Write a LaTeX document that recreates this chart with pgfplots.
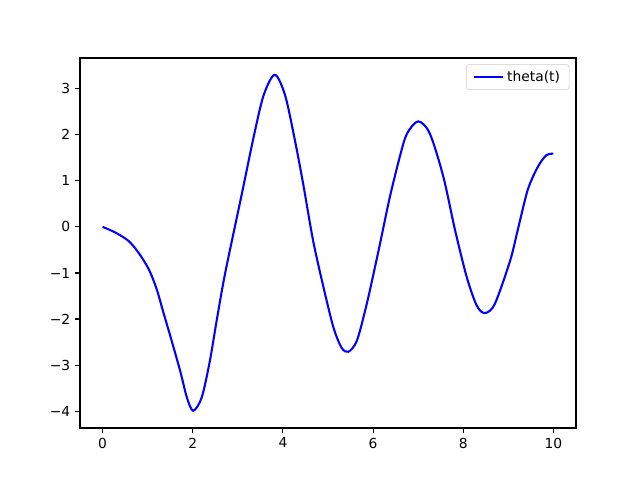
\documentclass[border=0pt]{standalone}
\usepackage{fontspec}
\setmainfont{DejaVu Sans}
\usepackage{pgfplots}
\pgfplotsset{compat=1.18}

\begin{document}
\begin{tikzpicture}
\fontsize{10}{12}\selectfont
\begin{axis}[
    name=ax,
    scale only axis,
    width=4.96in, height=3.70in,
    xmin=-0.5, xmax=10.5,
    ymin=-4.365, ymax=3.665,
    xtick={0,2,4,6,8,10},
    ytick={-4,-3,-2,-1,0,1,2,3},
    yticklabels={−4,−3,−2,−1,0,1,2,3},
    tick align=outside,
    tick pos=left,
    major tick length=3.5pt,
    every tick/.style={black, line width=0.8pt},
    axis line style={line width=0.8pt},
    /pgf/number format/assume math mode=true,
    tick label style={font=\fontsize{10}{12}\selectfont},
    legend cell align=left,
    legend style={draw=black!20, rounded corners=2pt, font=\fontsize{10}{12}\selectfont,
        at={(0.9865,0.983)}, anchor=north east, inner xsep=4.5pt, inner ysep=2.5pt,
        /tikz/every even column/.append style={column sep=4pt}},
    legend image code/.code={\draw[#1, line width=1.5pt] (0pt,0pt) -- (21.6pt,0pt);},
]
\addplot[blue, line width=1.5pt, smooth] coordinates {
    (0,0)
    (0.28,-0.12)
    (0.57,-0.30)
    (0.79,-0.55)
    (1.02,-0.91)
    (1.20,-1.35)
    (1.35,-1.86)
    (1.50,-2.36)
    (1.72,-3.12)
    (1.87,-3.70)
    (2.01,-3.99)
    (2.20,-3.70)
    (2.38,-2.91)
    (2.53,-2.04)
    (2.72,-1.00)
    (3.09,0.72)
    (3.34,1.90)
    (3.57,2.85)
    (3.82,3.30)
    (4.05,2.85)
    (4.27,1.86)
    (4.45,0.93)
    (4.67,-0.30)
    (4.90,-1.31)
    (5.12,-2.18)
    (5.30,-2.62)
    (5.45,-2.71)
    (5.64,-2.47)
    (5.86,-1.67)
    (6.12,-0.52)
    (6.37,0.64)
    (6.60,1.55)
    (6.75,2.02)
    (7.00,2.29)
    (7.26,2.02)
    (7.56,1.08)
    (7.82,-0.08)
    (8.08,-1.10)
    (8.30,-1.71)
    (8.48,-1.87)
    (8.70,-1.67)
    (9.04,-0.73)
    (9.20,-0.10)
    (9.41,0.74)
    (9.55,1.10)
    (9.70,1.38)
    (9.85,1.56)
    (10.0,1.59)
};
\addlegendentry{theta(t)}
\end{axis}
\path ([xshift=-0.8in,yshift=-0.53in]ax.south west) rectangle ([xshift=0.64in,yshift=0.58in]ax.north east);
\end{tikzpicture}
\end{document}
